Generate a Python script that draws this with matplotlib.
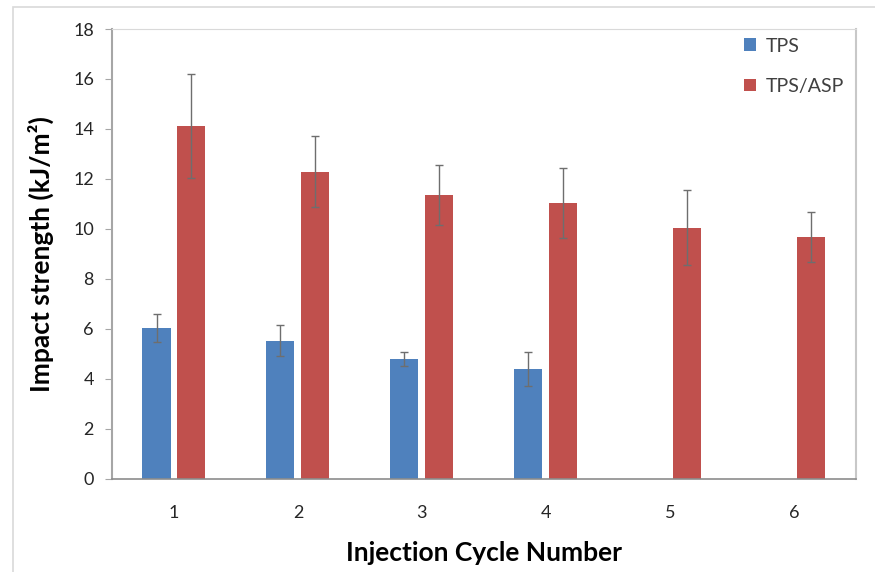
import matplotlib.pyplot as plt
import matplotlib.patches as mpatches
import numpy as np

plt.rcParams['font.family'] = ['Lato', 'DejaVu Sans']

# data
cycles = ["1", "2", "3", "4", "5", "6"]
tps = [6.04, 5.53, 4.80, 4.40]
tps_err = [0.55, 0.63, 0.28, 0.67]
tps_asp = [14.12, 12.28, 11.36, 11.05, 10.05, 9.68]
tps_asp_err = [2.08, 1.42, 1.20, 1.40, 1.50, 1.00]

BLUE = "#4F81BD"
RED = "#C0504D"
ERR = "#6e6e6e"


def main():
    fig = plt.figure(figsize=(8.75, 5.72), dpi=100)
    ax = fig.add_axes([0.128, 0.1626, 0.850, 0.7867])

    # light outer chart frame like the Excel chart area
    fig.patches.append(mpatches.Rectangle((13 / 875, -0.01), 1.0, 1 - 7 / 572 + 0.01,
                                          transform=fig.transFigure, fill=False,
                                          edgecolor="#d9d9d9", linewidth=1.2))

    x = np.arange(1, len(cycles) + 1)
    w = 0.226
    off = 0.141

    eb = dict(ecolor=ERR, elinewidth=1.0, capsize=3, capthick=1.0)
    ax.bar(x[:len(tps)] - off, tps, w, color=BLUE, yerr=tps_err, error_kw=eb, label="TPS", zorder=2)
    ax.bar(x + off, tps_asp, w, color=RED, yerr=tps_asp_err, error_kw=eb, label="TPS/ASP", zorder=2)

    ax.set_xlim(0.5, 6.5)
    ax.set_ylim(0, 18)
    ax.set_yticks(range(0, 19, 2))
    ax.set_xticks(x)
    ax.set_xticklabels(cycles)

    ax.tick_params(axis="y", direction="out", length=5, color="#a6a6a6", labelsize=13,
                   labelcolor="#262626", pad=8)
    ax.tick_params(axis="x", length=0, labelsize=13, labelcolor="#262626", pad=19)

    ax.spines["left"].set_color("#a6a6a6")
    ax.spines["left"].set_linewidth(1.5)
    ax.spines["bottom"].set_color("#8c8c8c")
    ax.spines["bottom"].set_linewidth(1.2)
    ax.spines["top"].set_color("#d9d9d9")
    ax.spines["right"].set_color("#c8c8c8")
    ax.spines["right"].set_linewidth(1.5)

    ax.set_xlabel("Injection Cycle Number", fontsize=19, fontweight="bold", labelpad=14)
    ax.set_ylabel("Impact strength (kJ/m²)", fontsize=19, fontweight="bold", labelpad=14)

    leg = ax.legend(loc="upper right", bbox_to_anchor=(1.008, 1.02), frameon=False,
                    fontsize=14, handlelength=0.6, handleheight=0.6, handletextpad=0.5,
                    labelspacing=1.2)
    for t in leg.get_texts():
        t.set_color("#404040")

    fig.savefig("out.png", dpi=100)


main()
